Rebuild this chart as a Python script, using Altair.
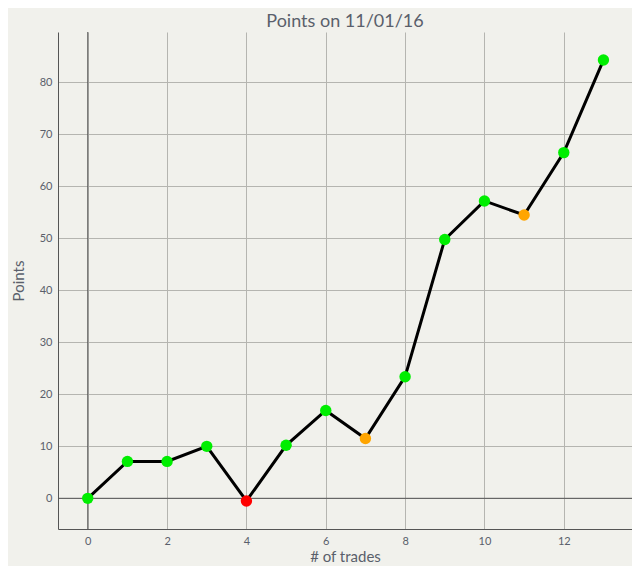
import pandas as pd
import altair as alt

trades = [0, 1, 2, 3, 4, 5, 6, 7, 8, 9, 10, 11, 12, 13]
points = [0.0, 7.1, 7.1, 10.0, -0.5, 10.2, 16.9, 11.5, 23.4, 49.8, 57.2, 54.5, 66.5, 84.3]
status = ['gain', 'gain', 'gain', 'gain', 'loss', 'gain', 'gain', 'drop',
          'gain', 'gain', 'gain', 'drop', 'gain', 'gain']

df = pd.DataFrame({'trades': trades, 'points': points, 'status': status})

font = 'Lato'
text_col = '#5a5f6b'

x_scale = alt.Scale(domain=[-0.75, 13.72], nice=False, zero=False)
y_scale = alt.Scale(domain=[-5.9, 89.7], nice=False, zero=False)

base = alt.Chart(df)

# zero lines
zero_x = alt.Chart().mark_rule(color='#555555', strokeWidth=1).encode(
    x=alt.datum(0, scale=x_scale))
zero_y = alt.Chart().mark_rule(color='#555555', strokeWidth=1).encode(
    y=alt.datum(0, scale=y_scale))

line = base.mark_line(color='black', strokeWidth=3).encode(
    x=alt.X('trades:Q', scale=x_scale,
            axis=alt.Axis(title='# of trades', values=[0, 2, 4, 6, 8, 10, 12],
                          grid=True, ticks=False, labelPadding=6,
                          titlePadding=3)),
    y=alt.Y('points:Q', scale=y_scale,
            axis=alt.Axis(title='Points', values=[0, 10, 20, 30, 40, 50, 60, 70, 80],
                          grid=True, ticks=False, labelPadding=6,
                          titlePadding=13)),
)

dots = base.mark_circle(size=130, opacity=1).encode(
    x=alt.X('trades:Q', scale=x_scale),
    y=alt.Y('points:Q', scale=y_scale),
    color=alt.Color('status:N', legend=None,
                    scale=alt.Scale(domain=['gain', 'drop', 'loss'],
                                    range=['#00ee00', '#ffa500', '#ff0000'])),
)

chart = alt.layer(zero_x, zero_y, line, dots).properties(
    width=574,
    height=497,
    background='#f1f1ec',
    padding={'left': 50, 'top': 24, 'right': 0, 'bottom': 37},
    autosize=alt.AutoSizeParams(type='none'),
    title=alt.Title('Points on 11/01/16', font=font, fontSize=18,
                    fontWeight='normal', color=text_col, offset=1),
).configure_view(
    stroke=None
).configure_axis(
    domainColor='#555555',
    gridColor='#b5b5b0',
    labelFont=font,
    labelFontSize=11,
    labelColor=text_col,
    titleFont=font,
    titleFontSize=15,
    titleFontWeight='normal',
    titleColor=text_col,
)

chart.save('out.html', embed_options={'renderer': 'svg', 'actions': False})
